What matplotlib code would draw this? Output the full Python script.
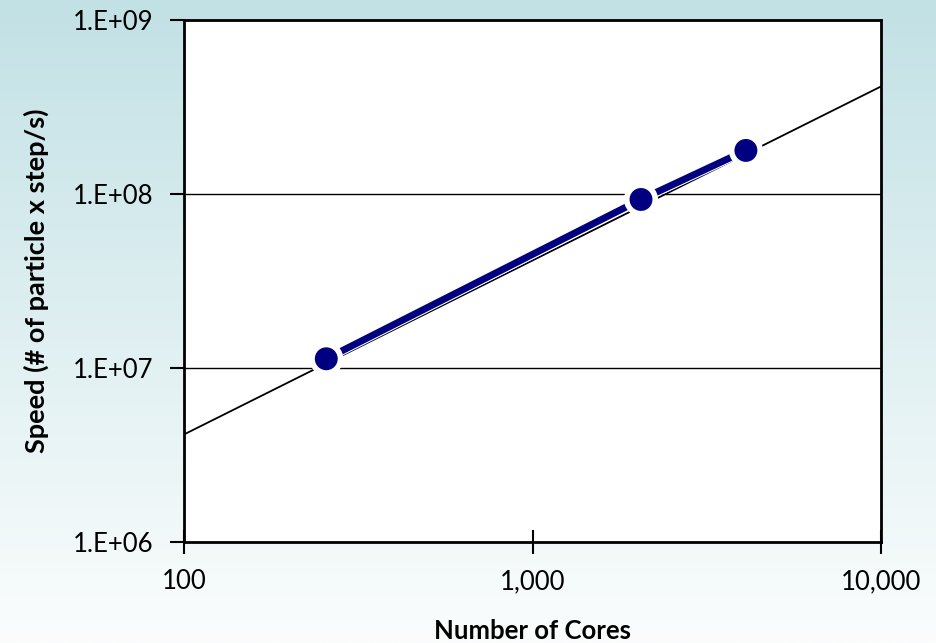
import numpy as np
import matplotlib
matplotlib.use("Agg")
import matplotlib.pyplot as plt
import matplotlib.patheffects as pe
from matplotlib.ticker import FixedLocator, NullLocator

# Data
cores = [256, 2048, 4096]
speed = [1.13e7, 9.3e7, 1.78e8]
ideal_x = [100, 10000]
ideal_y = [4.15e6, 4.15e8]
x_ticks = [100, 1000, 10000]
x_tick_labels = ["100", "1,000", "10,000"]
y_ticks = [1e6, 1e7, 1e8, 1e9]
y_tick_labels = ["1.E+06", "1.E+07", "1.E+08", "1.E+09"]

W, H = 936, 643
fig = plt.figure(figsize=(W / 100, H / 100), dpi=100)

# background gradient
bg = fig.add_axes([0, 0, 1, 1], zorder=-10)
top = np.array([194, 225, 229]) / 255
bot = np.array([251, 253, 253]) / 255
t = np.linspace(0, 1, 256)[:, None]
grad = top[None, :] * (1 - t) + bot[None, :] * t
grad = np.repeat(grad[:, None, :], 2, axis=1)
bg.imshow(grad, aspect="auto", extent=[0, 1, 0, 1], interpolation="bilinear")
bg.axis("off")

left, right, topp, bottom = 184 / W, 881 / W, 20 / H, 542 / H
ax = fig.add_axes([left, 1 - bottom, right - left, bottom - topp])
ax.set_facecolor("white")
ax.set_xscale("log")
ax.set_yscale("log")
ax.set_xlim(100, 10000)
ax.set_ylim(1e6, 1e9)

for y in [1e7, 1e8]:
    ax.axhline(y, color="black", lw=1.0, zorder=1)

ax.plot(ideal_x, ideal_y, color="black", lw=1.3, zorder=2)
ax.plot(cores, speed, color="#000080", lw=5, zorder=3,
        path_effects=[pe.Stroke(linewidth=6.5, foreground="white"), pe.Normal()],
        marker="o", markersize=18, markerfacecolor="#000080",
        markeredgecolor="white", markeredgewidth=1.5)

for s in ax.spines.values():
    s.set_linewidth(2)
    s.set_color("black")

tick_font = dict(family=["Lato", "DejaVu Sans"], size=18.5)
ax.xaxis.set_major_locator(FixedLocator(x_ticks))
ax.xaxis.set_minor_locator(NullLocator())
ax.set_xticklabels(x_tick_labels, **tick_font)
ax.yaxis.set_major_locator(FixedLocator(y_ticks))
ax.yaxis.set_minor_locator(NullLocator())
ax.set_yticklabels(y_tick_labels, **tick_font)
ax.tick_params(axis="x", direction="inout", length=17, width=1.5, pad=11)
ax.tick_params(axis="y", direction="out", length=10, width=1.5, pad=12)

ax.set_xlabel("Number of Cores", labelpad=18,
              family=["Lato", "DejaVu Sans"], size=18.5, weight="bold")
ax.set_ylabel("Speed (# of particle x step/s)", labelpad=17,
              family=["Lato", "DejaVu Sans"], size=19.5, weight="bold")

fig.savefig("out.png", dpi=100)
